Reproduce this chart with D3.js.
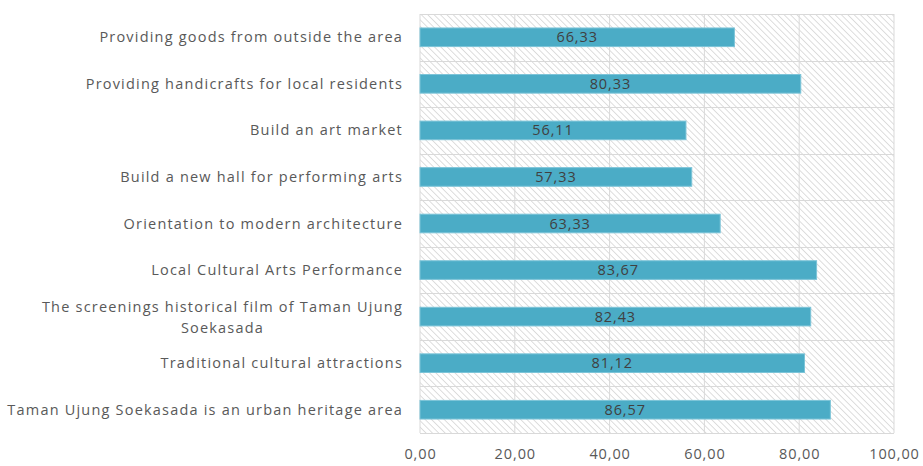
<!DOCTYPE html>
<html>
<head>
<meta charset="utf-8">
<script src="https://cdn.jsdelivr.net/npm/d3@7"></script>
<style>
  body { margin: 0; background: #fff; }
  svg text { font-family: "Open Sans", sans-serif; }
</style>
</head>
<body>
<svg id="chart" width="923" height="466"></svg>
<script>
// categories top to bottom, as in the picture
var categories = [
  "Providing goods from outside the area",
  "Providing handicrafts for local residents",
  "Build an art market",
  "Build a new hall for performing arts",
  "Orientation to modern architecture",
  "Local Cultural Arts Performance",
  "The screenings historical film of Taman Ujung Soekasada",
  "Traditional cultural attractions",
  "Taman Ujung Soekasada is an urban heritage area"
];
var values = [66.33, 80.33, 56.11, 57.33, 63.33, 83.67, 82.43, 81.12, 86.57];
var ticks = [0, 20, 40, 60, 80, 100];

var margin = {top: 14, right: 29, bottom: 33, left: 420};
var width = 923 - margin.left - margin.right,
    height = 466 - margin.top - margin.bottom;

var svg = d3.select("#chart");

// hatch background
var defs = svg.append("defs");
var pat = defs.append("pattern")
  .attr("id", "hatch")
  .attr("patternUnits", "userSpaceOnUse")
  .attr("width", 4.5)
  .attr("height", 4.5)
  .attr("patternTransform", "rotate(-45)");
pat.append("rect").attr("width", 4.5).attr("height", 4.5).attr("fill", "#fff");
pat.append("line")
  .attr("x1", 0).attr("y1", 0).attr("x2", 0).attr("y2", 4.5)
  .attr("stroke", "#d6d6d6").attr("stroke-width", 1.6);

var g = svg.append("g").attr("transform", "translate(" + margin.left + "," + margin.top + ")");

var x = d3.scaleLinear().domain([0, 100]).range([0, width]);
var y = d3.scaleBand().domain(categories).range([0, height]).paddingInner(0.6).paddingOuter(0.3);

var fmt = function(d) { return d3.format(".2f")(d).replace(".", ",") };

g.append("rect")
  .attr("width", width)
  .attr("height", height)
  .attr("fill", "url(#hatch)");

// vertical grid
g.selectAll("line.vgrid")
  .data(ticks)
  .enter()
  .append("line")
  .attr("class", "vgrid")
  .attr("x1", function(d) { return x(d) }).attr("x2", function(d) { return x(d) })
  .attr("y1", 0).attr("y2", height)
  .attr("stroke", "#d9d9d9").attr("stroke-width", 1);

// horizontal grid at category boundaries
g.selectAll("line.hgrid")
  .data(d3.range(categories.length + 1))
  .enter()
  .append("line")
  .attr("class", "hgrid")
  .attr("x1", 0).attr("x2", width)
  .attr("y1", function(i) { return Math.round(i * height / categories.length) + 0.5 })
  .attr("y2", function(i) { return Math.round(i * height / categories.length) + 0.5 })
  .attr("stroke", "#d9d9d9").attr("stroke-width", 1);

// bars
g.selectAll("rect.bar")
  .data(values)
  .enter()
  .append("rect")
  .attr("class", "bar")
  .attr("x", x(0))
  .attr("y", function(d, i) { return y(categories[i]) })
  .attr("width", function(d) { return x(d) - x(0) })
  .attr("height", y.bandwidth())
  .attr("fill", "#4bacc6")
  .attr("stroke", "#7cc4d8")
  .attr("stroke-width", 1);

// value labels
g.selectAll("text.val")
  .data(values)
  .enter()
  .append("text")
  .attr("class", "val")
  .attr("x", function(d) { return x(d) / 2 })
  .attr("y", function(d, i) { return y(categories[i]) + y.bandwidth() / 2 })
  .attr("dy", "0.35em")
  .attr("text-anchor", "middle")
  .attr("fill", "#404040")
  .style("font-size", "14.5px")
  .style("letter-spacing", "0.9px")
  .text(fmt);

// category labels (with wrap for the long one)
var wrapped = {
  "The screenings historical film of Taman Ujung Soekasada": ["The screenings historical film of Taman Ujung", "Soekasada"]
};
categories.forEach(function(c, i) {
  var cy = y(c) + y.bandwidth() / 2;
  var t = g.append("text")
    .attr("fill", "#595959")
    .style("font-size", "14.5px")
    .style("letter-spacing", "1.2px");
  if (wrapped[c]) {
    var first = t.append("tspan").attr("x", -17).attr("y", cy - 10).attr("dy", "0.35em")
      .attr("text-anchor", "end").text(wrapped[c][0]);
    var w = first.node().getComputedTextLength();
    t.append("tspan").attr("x", -17 - w / 2).attr("y", cy + 11).attr("dy", "0.35em")
      .attr("text-anchor", "middle").text(wrapped[c][1]);
  } else {
    t.attr("x", -17).attr("y", cy).attr("dy", "0.35em")
      .attr("text-anchor", "end").text(c);
  }
});

// x axis labels
var xAxis = d3.axisBottom(x)
  .tickValues(ticks)
  .tickSize(0)
  .tickPadding(16)
  .tickFormat(fmt);

var ax = g.append("g")
  .attr("transform", "translate(0," + height + ")")
  .call(xAxis);
ax.select(".domain").remove();
ax.selectAll("text")
  .attr("fill", "#595959")
  .style("font-size", "14.5px")
  .style("letter-spacing", "0.9px")
  .style("font-family", "Open Sans, sans-serif");
</script>
</body>
</html>
